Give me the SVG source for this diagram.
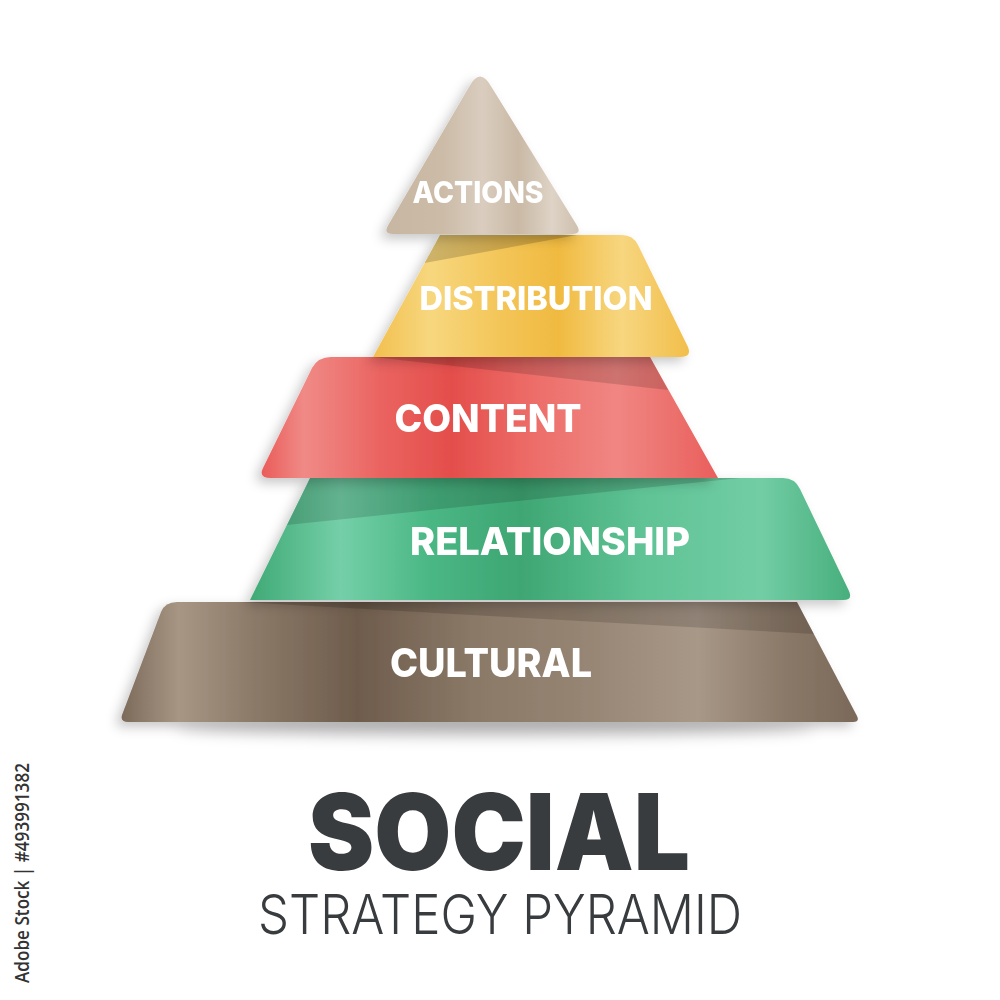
<svg xmlns="http://www.w3.org/2000/svg" width="1000" height="1000" viewBox="0 0 1000 1000">
<defs>
<filter id="sh" x="-20%" y="-20%" width="140%" height="150%">
<feDropShadow dx="-5" dy="5" stdDeviation="6" flood-color="#000" flood-opacity="0.22"/>
</filter>
<filter id="blur" x="-20%" y="-200%" width="140%" height="500%">
<feGaussianBlur stdDeviation="7"/>
</filter>
<linearGradient id="gBrown" gradientUnits="userSpaceOnUse" x1="120" y1="0" x2="860" y2="0">
<stop offset="0" stop-color="#7b6959"/>
<stop offset="0.08" stop-color="#a89685"/>
<stop offset="0.18" stop-color="#8c7a69"/>
<stop offset="0.32" stop-color="#6e5c4c"/>
<stop offset="0.48" stop-color="#8b7968"/>
<stop offset="0.62" stop-color="#968473"/>
<stop offset="0.78" stop-color="#a89888"/>
<stop offset="0.9" stop-color="#8a7868"/>
<stop offset="1" stop-color="#7a6858"/>
</linearGradient>
<linearGradient id="gGreen" gradientUnits="userSpaceOnUse" x1="250" y1="0" x2="852" y2="0">
<stop offset="0" stop-color="#3fa975"/>
<stop offset="0.15" stop-color="#74cfa8"/>
<stop offset="0.3" stop-color="#4ab784"/>
<stop offset="0.45" stop-color="#3ea673"/>
<stop offset="0.65" stop-color="#5fc395"/>
<stop offset="0.85" stop-color="#72cda5"/>
<stop offset="1" stop-color="#46ae7b"/>
</linearGradient>
<linearGradient id="gRed" gradientUnits="userSpaceOnUse" x1="258" y1="0" x2="718" y2="0">
<stop offset="0" stop-color="#e95856"/>
<stop offset="0.1" stop-color="#f08a86"/>
<stop offset="0.27" stop-color="#ea6360"/>
<stop offset="0.42" stop-color="#e44e4b"/>
<stop offset="0.58" stop-color="#ec6a66"/>
<stop offset="0.78" stop-color="#f08682"/>
<stop offset="1" stop-color="#e95f5c"/>
</linearGradient>
<linearGradient id="gYellow" gradientUnits="userSpaceOnUse" x1="373" y1="0" x2="692" y2="0">
<stop offset="0" stop-color="#f2bf4e"/>
<stop offset="0.18" stop-color="#f7d77e"/>
<stop offset="0.42" stop-color="#f3c455"/>
<stop offset="0.58" stop-color="#f0ba40"/>
<stop offset="0.78" stop-color="#f7d67f"/>
<stop offset="1" stop-color="#f1bd48"/>
</linearGradient>
<linearGradient id="gBeige" gradientUnits="userSpaceOnUse" x1="383" y1="0" x2="582" y2="0">
<stop offset="0" stop-color="#c7b6a2"/>
<stop offset="0.3" stop-color="#cbbba7"/>
<stop offset="0.5" stop-color="#dacdbf"/>
<stop offset="0.68" stop-color="#c9b9a5"/>
<stop offset="0.85" stop-color="#ded3c6"/>
<stop offset="1" stop-color="#cdbdab"/>
</linearGradient>
<style>
.lbl{font-family:Inter,"Open Sans","DejaVu Sans",sans-serif;font-weight:800;fill:#ffffff;text-anchor:middle}
.wedge{fill:#000;fill-opacity:0.14}
.title{font-family:Inter,"Open Sans","DejaVu Sans",sans-serif;fill:#383c3f;text-anchor:middle}
</style>
</defs>
<rect width="1000" height="1000" fill="#ffffff"/>

<ellipse cx="495" cy="728" rx="320" ry="9" fill="#000" fill-opacity="0.22" filter="url(#blur)"/>

<g id="cultural" filter="url(#sh)">
<path d="M177,602 L797,602 L857,716 Q860,722 853,722 L128,722 Q120,722 122,715 L161,612 Q165,602 177,602 Z" fill="url(#gBrown)"/>
<polygon class="wedge" points="240,602 797,602 814,634"/>
<text class="lbl" x="491" y="677" font-size="40" textLength="202" lengthAdjust="spacingAndGlyphs">CULTURAL</text>
</g>

<g id="relationship" filter="url(#sh)">
<path d="M310,478 L783,478 Q795,478 800,489 L849,591 Q853,600 843,600 L250,600 Z" fill="url(#gGreen)"/>
<polygon class="wedge" points="310,478 740,478 287,525"/>
<text class="lbl" x="550" y="555" font-size="38" textLength="280" lengthAdjust="spacingAndGlyphs">RELATIONSHIP</text>
</g>

<g id="content" filter="url(#sh)">
<path d="M331,357 L650,357 L718,478 L271,478 Q258,478 263,468 L312,368 Q318,357 331,357 Z" fill="url(#gRed)"/>
<polygon class="wedge" points="373,357 650,357 668,390"/>
<text class="lbl" x="488" y="432" font-size="38" textLength="187" lengthAdjust="spacingAndGlyphs">CONTENT</text>
</g>

<g id="distribution" filter="url(#sh)">
<path d="M440,235 L622,235 Q633,235 638,245 L688,347 Q692,357 681,357 L373,357 Z" fill="url(#gYellow)"/>
<polygon class="wedge" points="440,235 577,235 424.6,263" style="fill-opacity:0.17"/>
<text class="lbl" x="536" y="310" font-size="33" textLength="233" lengthAdjust="spacingAndGlyphs">DISTRIBUTION</text>
</g>

<g id="actions" filter="url(#sh)">
<path d="M469,87 Q480,66 491.5,87 L577,225.5 Q582,234 572,234 L393,234 Q383,234 388,225.5 Z" fill="url(#gBeige)"/>
<text class="lbl" x="478" y="203" font-size="30" textLength="131" lengthAdjust="spacingAndGlyphs">ACTIONS</text>
</g>

<g id="title">
<text class="title" x="499" y="870" font-size="106" font-weight="900" textLength="382" lengthAdjust="spacingAndGlyphs">SOCIAL</text>
<text class="title" x="500" y="934" font-size="55" font-weight="300" textLength="484" lengthAdjust="spacingAndGlyphs">STRATEGY PYRAMID</text>
</g>

<text transform="translate(29,983) rotate(-90)" x="0" y="0" font-family="'Open Sans','DejaVu Sans',sans-serif" font-size="19" font-weight="600" fill="#333333" textLength="220" lengthAdjust="spacingAndGlyphs">Adobe Stock | #493991382</text>
</svg>
